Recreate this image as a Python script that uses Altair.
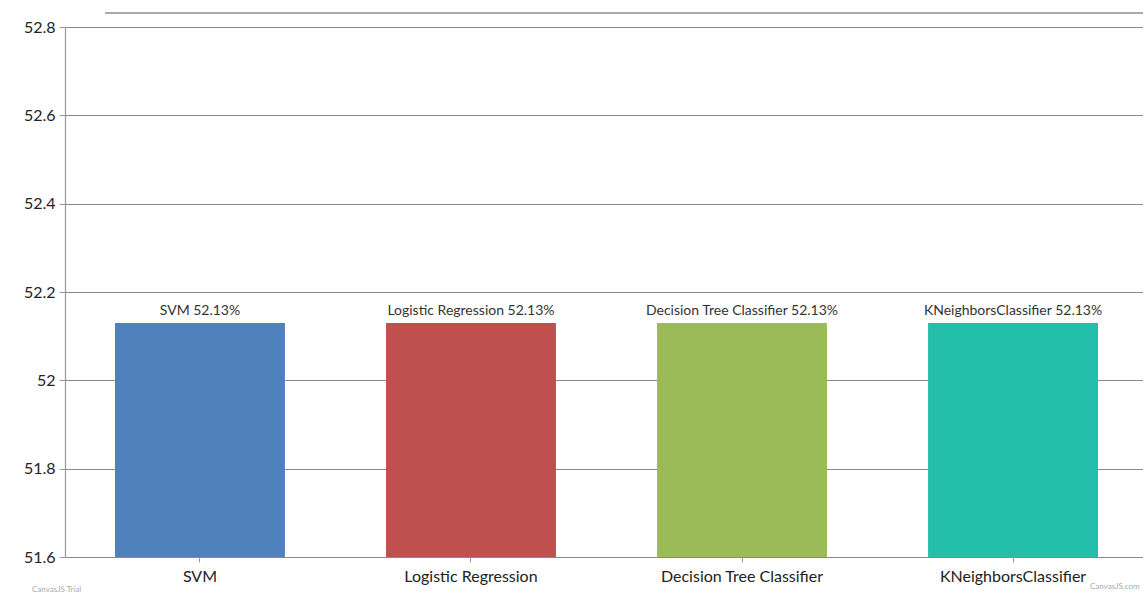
import altair as alt
import pandas as pd

models = ["SVM", "Logistic Regression", "Decision Tree Classifier", "KNeighborsClassifier"]
accuracy = [52.13, 52.13, 52.13, 52.13]
colors = ["#4F81BC", "#C0504E", "#9BBB58", "#23BFAA"]
y_ticks = [51.6, 51.8, 52.0, 52.2, 52.4, 52.6, 52.8]

df = pd.DataFrame({"model": models, "acc": accuracy})
df["label"] = [f"{m} {a:.2f}%" for m, a in zip(models, accuracy)]

FONT = "Lato"

x = alt.X("model:N", sort=models, title=None,
          scale=alt.Scale(paddingInner=0.373, paddingOuter=0.1845, range=[0, 1083]),
          axis=alt.Axis(labelAngle=0, labelFontSize=16, labelColor="#222", labelFont=FONT,
                        domain=False, tickColor="#999", tickSize=5, labelPadding=6))
y = alt.Y("acc:Q", title=None,
          scale=alt.Scale(domain=[51.6, 52.8], nice=False, zero=False),
          axis=alt.Axis(values=y_ticks, labelExpr="datum.value == 52 ? '52' : format(datum.value, '.1f')",
                        labelFontSize=16, labelColor="#222", labelFont=FONT,
                        gridColor="#8a8a8a", gridWidth=1.2, domainColor="#999", domainWidth=1.2,
                        tickColor="#999", tickSize=6, labelPadding=4))

bars = alt.Chart(df).mark_bar(clip=True).encode(
    x=x, y=y,
    color=alt.Color("model:N", sort=models, scale=alt.Scale(domain=models, range=colors), legend=None),
)

labels = alt.Chart(df).mark_text(dy=-12, fontSize=14, font=FONT, color="#333").encode(
    x=alt.X("model:N", sort=models), y="acc:Q", text="label:N"
)

top_line = alt.Chart(pd.DataFrame({"a": [0]})).mark_rule(color="#aaa", strokeWidth=2, clip=False).encode(
    x=alt.value(40), x2=alt.value(1100), y=alt.value(-14)
)

trial = alt.Chart(pd.DataFrame({"t": ["CanvasJS Trial"]})).mark_text(
    fontSize=8, color="#aaa", font=FONT, align="left", clip=False
).encode(x=alt.value(-33), y=alt.value(563), text="t:N")

trial2 = alt.Chart(pd.DataFrame({"t": ["CanvasJS.com"]})).mark_text(
    fontSize=8, color="#aaa", font=FONT, align="left", clip=False
).encode(x=alt.value(1025), y=alt.value(560), text="t:N")

chart = alt.layer(bars, labels, top_line, trial, trial2).properties(
    width=1078, height=530,
    padding={"left": 65, "top": 27, "right": 0, "bottom": 36},
    autosize=alt.AutoSizeParams(type="none"),
    background="white",
).configure_view(stroke=None)

chart.save("out.html", embed_options={"renderer": "svg", "actions": False})
